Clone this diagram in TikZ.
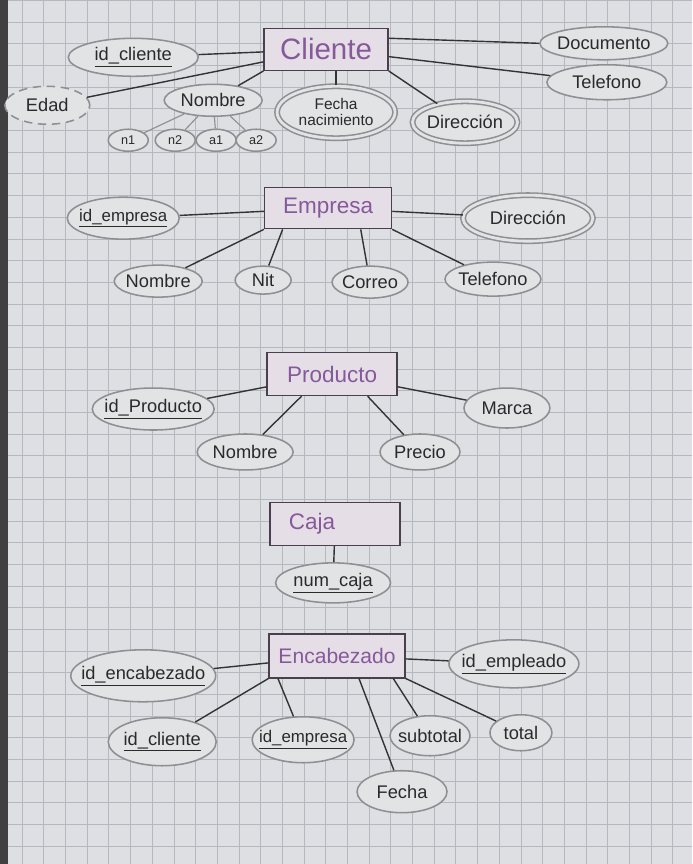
\documentclass[tikz,border=0pt]{standalone}
\usepackage{fontspec}
\setmainfont{Liberation Sans}
\usetikzlibrary{shapes.geometric}
\definecolor{paper}{HTML}{DEDFE2}
\definecolor{gridcol}{HTML}{B5B8BE}
\definecolor{entline}{HTML}{4A3F4F}
\definecolor{entfill}{HTML}{E5DEE7}
\definecolor{enttext}{HTML}{86599A}
\definecolor{attline}{HTML}{8E8F92}
\definecolor{attfill}{HTML}{E2E3E5}
\definecolor{atttext}{HTML}{2A2A2A}
\definecolor{linkcol}{HTML}{333333}
\newcommand{\tx}[1]{\makebox[0pt]{#1}}

\begin{document}
\begin{tikzpicture}[x=0.025cm, y=-0.025cm,
  entity/.style={draw=entline, fill=entfill, rectangle, line width=1pt, text=enttext,
    font=\fontsize{16}{18}\selectfont, inner sep=0pt},
  attr/.style={draw=attline, fill=attfill, ellipse, line width=1.1pt, text=atttext,
    font=\fontsize{13}{15}\selectfont, inner sep=0pt},
  small/.style={font=\fontsize{12}{14}\selectfont},
  multi/.style={attr, double=attfill, double distance=2pt},
  derived/.style={attr, dash pattern=on 6pt off 4pt},
  part/.style={attr, font=\fontsize{9}{10}\selectfont, minimum width=1cm, minimum height=0.55cm},
  link/.style={draw=linkcol, line width=1pt}]

  % paper
  \fill[paper] (0,0) rectangle (692,864);
  \draw[gridcol, line width=0.5pt, step=0.5425cm] (0,864) grid (692,0);
  \fill[black!75] (0,0) rectangle (8,864);

  % Cliente
  \node[entity, minimum width=3.1cm, minimum height=1.05cm, font=\fontsize{21}{23}\selectfont] (cliente) at (326,49) {Cliente};
  \node[attr, minimum width=3.25cm, minimum height=0.95cm] (idcli) at (133,57) {\tx{\underline{id\_cliente}}};
  \node[derived, minimum width=2.125cm, minimum height=0.95cm] (edad) at (47,105) {\tx{Edad}};
  \node[attr, minimum width=2.45cm, minimum height=0.8cm] (nomcli) at (213,100) {\tx{Nombre}};
  \node[part] (n1) at (128,140) {n1};
  \node[part] (n2) at (175,140) {n2};
  \node[part] (a1) at (216,140) {a1};
  \node[part] (a2) at (256,140) {a2};
  \node[multi, minimum width=2.95cm, minimum height=1.3cm,
    font=\fontsize{11}{13}\selectfont] (fechanac) at (336,112) {\tx{\shortstack{Fecha\\nacimiento}}};
  \node[multi, minimum width=2.625cm, minimum height=1.05cm] (dircli) at (465,122) {\tx{Dirección}};
  \node[attr, minimum width=3.2cm, minimum height=0.825cm] (docu) at (604,43) {\tx{Documento}};
  \node[attr, minimum width=3cm, minimum height=0.875cm] (telcli) at (607,82) {\tx{Telefono}};

  \draw[link] (idcli) -- (cliente);
  \draw[link] (edad) -- (cliente);
  \draw[link] (nomcli) -- (cliente.south west);
  \draw[link] (fechanac.north) -- (fechanac.north |- cliente.south);
  \draw[link] (dircli) -- (cliente.south east);
  \draw[link] (docu.west) -- (cliente.10);
  \draw[link] (telcli) -- (cliente);
  \foreach \p in {n1,n2,a1,a2}
    \draw[attline, line width=0.8pt] (nomcli) -- (\p);

  % Empresa
  \node[entity, minimum width=3.175cm, minimum height=1.025cm] (empresa) at (328,208) {Empresa};
  \node[attr, small, minimum width=2.8cm, minimum height=1.05cm] (idemp) at (123,218) {\tx{\underline{id\_empresa}}};
  \node[multi, minimum width=3.25cm, minimum height=1.15cm] (diremp) at (528,218) {\tx{Dirección}};
  \node[attr, minimum width=2.2cm, minimum height=0.8cm] (nomemp) at (158,281) {\tx{Nombre}};
  \node[attr, minimum width=1.4cm, minimum height=0.7cm] (nit) at (263,280) {\tx{Nit}};
  \node[attr, minimum width=1.9cm, minimum height=0.8cm] (correo) at (370,282) {\tx{Correo}};
  \node[attr, minimum width=2.4cm, minimum height=0.85cm] (telemp) at (493,279) {\tx{Telefono}};

  \draw[link] (idemp) -- (empresa);
  \draw[link] (diremp) -- (empresa);
  \draw[link] (nomemp) -- (empresa.south west);
  \draw[link] (nit) -- (empresa.205);
  \draw[link] (correo) -- (empresa.-33);
  \draw[link] (telemp) -- (empresa.south east);

  % Producto
  \node[entity, minimum width=3.25cm, minimum height=1.075cm] (producto) at (332,374) {Producto};
  \node[attr, minimum width=3.05cm, minimum height=1.05cm] (idprod) at (153,409) {\tx{\underline{id\_Producto}}};
  \node[attr, minimum width=2.4cm, minimum height=0.9cm] (nomprod) at (245,452) {\tx{Nombre}};
  \node[attr, minimum width=2cm, minimum height=0.9cm] (precio) at (420,452) {\tx{Precio}};
  \node[attr, minimum width=2.15cm, minimum height=1cm] (marca) at (507,408) {\tx{Marca}};

  \draw[link] (idprod) -- (producto);
  \draw[link] (nomprod) -- (producto.216);
  \draw[link] (precio) -- (producto.-32);
  \draw[link] (marca) -- (producto);

  % Caja
  \node[entity, minimum width=3.25cm, minimum height=1.075cm] (caja) at (335,524) {\tx{\hspace{-1.15cm}Caja}};
  \node[attr, minimum width=2.875cm, minimum height=1cm] (numcaja) at (333,583) {\tx{\underline{num\_caja}}};

  \draw[link] (numcaja) -- (caja);

  % Encabezado
  \node[entity, minimum width=3.4cm, minimum height=1.1cm, font=\fontsize{15}{17}\selectfont] (encab) at (337,656) {Encabezado};
  \node[attr, minimum width=3.625cm, minimum height=1.3cm] (idenc) at (143,676) {\tx{\underline{id\_encabezado}}};
  \node[attr, minimum width=3.25cm, minimum height=1.2cm] (idempl) at (514,664) {\tx{\underline{id\_empleado}}};
  \node[attr, minimum width=2.7cm, minimum height=1.2cm] (idclienc) at (162,742) {\tx{\underline{id\_cliente}}};
  \node[attr, small, minimum width=2.55cm, minimum height=1.15cm] (idempenc) at (303,740) {\tx{\underline{id\_empresa}}};
  \node[attr, minimum width=2.25cm, minimum height=1.05cm] (fecha) at (402,792) {\tx{Fecha}};
  \node[attr, minimum width=2cm, minimum height=1cm] (subtotal) at (430,736) {\tx{subtotal}};
  \node[attr, minimum width=1.55cm, minimum height=0.9cm] (total) at (521,733) {\tx{total}};

  \draw[link] (idenc) -- (encab);
  \draw[link] (idempl) -- (encab);
  \draw[link] (idclienc) -- (encab.south west);
  \draw[link] (idempenc) -- (encab.201);
  \draw[link] (fecha) -- (encab.-46);
  \draw[link] (subtotal) -- (encab.-22);
  \draw[link] (total) -- (encab.south east);
\end{tikzpicture}
\end{document}
